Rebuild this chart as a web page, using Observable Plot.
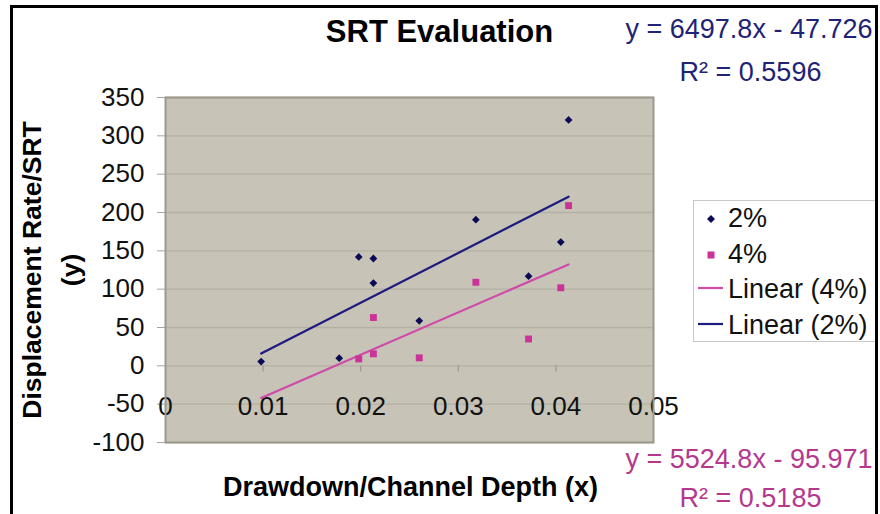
<!DOCTYPE html>
<html><head><meta charset="utf-8">
<script src="https://cdn.jsdelivr.net/npm/d3@7"></script>
<script src="https://cdn.jsdelivr.net/npm/@observablehq/plot@0.6"></script>
<style>
body{margin:0;background:#fff;}
#wrap{position:relative;width:880px;height:514px;overflow:hidden;font-family:"Liberation Sans",Arial,sans-serif;}
#chart{position:absolute;left:0;top:0;}
#border{position:absolute;left:10px;top:5px;width:868px;height:560px;border:3px solid #000;box-sizing:border-box;pointer-events:none;}
#legend{position:absolute;left:693px;top:200px;width:183px;height:142px;border:1px solid #c8c8c8;box-sizing:border-box;background:#fff;}
</style></head><body>
<div id="wrap"><div id="chart"></div><div id="legend"></div><div id="border"></div></div>
<script>
// ---- data ----
const xValues = [0.0098, 0.0178, 0.0198, 0.0213, 0.0213, 0.026, 0.0318, 0.0372, 0.0405, 0.0413];
const y2pct   = [5.6, 10, 142, 140, 108, 58.7, 190.6, 117, 161.5, 320.7];
const y4pct   = [null, null, 9, 63, 15.7, 10.4, 109, 35, 101.8, 209];
const seriesNames = ["2%", "4%"];
const trendSlopes = [6497.8, 5524.8];
const trendIntercepts = [-47.726, -95.971];
const trendR2 = [0.5596, 0.5185];
const xTicks = [0, 0.01, 0.02, 0.03, 0.04, 0.05];
const yTicks = [-100, -50, 0, 50, 100, 150, 200, 250, 300, 350];
const titleText = "SRT Evaluation";
const xTitle = "Drawdown/Channel Depth (x)";
const yTitle = ["Displacement Rate/SRT", "(y)"];
const legendLabels = ["2%", "4%", "Linear (4%)", "Linear (2%)"];

// ---- styles ----
const blueDot = "#0a0a55", pinkDot = "#cc3399";
const blueLine = "#1c1c7e", pinkLine = "#cf4aa9";
const blueText = "#1f2375", pinkText = "#b5378e";
const plotFill = "#c7c3b7", gridColor = "#b4b0a4", frameColor = "#9c988c";
const font = "Liberation Sans, Arial, sans-serif";

const points = xValues.flatMap((x, i) => [
  {x, y: y2pct[i], s: seriesNames[0]},
  {x, y: y4pct[i], s: seriesNames[1]}
]).filter(d => d.y != null);

const [xMin, xMax] = d3.extent(xValues);
const trend = seriesNames.flatMap((s, k) => [xMin, xMax].map(x => ({x, y: trendSlopes[k] * x + trendIntercepts[k], s})));

const eqText = k => `y = ${trendSlopes[k]}x - ${Math.abs(trendIntercepts[k])}`;
const r2Text = k => `R\u00b2 = ${trendR2[k]}`;

const chart = Plot.plot({
  width: 880, height: 514,
  marginLeft: 165, marginRight: 227, marginTop: 97, marginBottom: 72,
  x: {domain: [xTicks[0], xTicks[xTicks.length - 1]], axis: null},
  y: {domain: [yTicks[0], yTicks[yTicks.length - 1]]},
  style: {fontFamily: font, background: "transparent", overflow: "visible"},
  marks: [
    Plot.frame({fill: plotFill}),
    Plot.ruleY(yTicks, {stroke: gridColor, strokeWidth: 1.3}),
    Plot.axisY({ticks: yTicks, tickSize: 8, tickPadding: 13, fontSize: 26, stroke: "#a9a59b", fill: "#111", tickFormat: d => String(d), label: null}),
    Plot.ruleX(xTicks.slice(1, -1), {x: d => d, y1: 0, y2: -8, stroke: "#a09c92", strokeWidth: 1.3}),
    Plot.text(xTicks, {x: d => d, y: 0, dy: 41, text: d => String(d), fontSize: 26, fill: "#111", lineAnchor: "middle"}),
    Plot.line(trend.filter(d => d.s === "2%"), {x: "x", y: "y", stroke: blueLine, strokeWidth: 2.2}),
    Plot.line(trend.filter(d => d.s === "4%"), {x: "x", y: "y", stroke: pinkLine, strokeWidth: 2.2}),
    Plot.dot(points.filter(d => d.s === "2%"), {x: "x", y: "y", symbol: "diamond2", r: 3.5, fill: blueDot, stroke: "none"}),
    Plot.dot(points.filter(d => d.s === "4%"), {x: "x", y: "y", symbol: "square", r: 3.9, fill: pinkDot, stroke: "none"}),
    Plot.frame({stroke: frameColor, strokeWidth: 2}),
    // title
    Plot.text([titleText], {text: d => d, frameAnchor: "top", dx: 30, dy: -56, lineAnchor: "bottom", fontSize: 31, fontWeight: "bold", fill: "#000"}),
    // axis titles
    Plot.text([xTitle], {text: d => d, frameAnchor: "bottom", dx: 1, dy: 53, lineAnchor: "bottom", fontSize: 27, fontWeight: "bold", fill: "#000"}),
    Plot.text([yTitle[0]], {text: d => d, frameAnchor: "left", rotate: -90, dx: -133, textAnchor: "middle", lineAnchor: "middle", fontSize: 26.5, fontWeight: "bold", fill: "#000"}),
    Plot.text([yTitle[1]], {text: d => d, frameAnchor: "left", rotate: -90, dx: -94, textAnchor: "middle", lineAnchor: "middle", fontSize: 26.5, fontWeight: "bold", fill: "#000"}),
    // trendline equations
    Plot.text([eqText(0)], {text: d => d, frameAnchor: "top-right", textAnchor: "middle", dx: 95.5, dy: -60, lineAnchor: "bottom", fontSize: 27, fill: blueText}),
    Plot.text([r2Text(0)], {text: d => d, frameAnchor: "top-right", textAnchor: "middle", dx: 97, dy: -17, lineAnchor: "bottom", fontSize: 27, fill: blueText}),
    Plot.text([eqText(1)], {text: d => d, frameAnchor: "bottom-right", textAnchor: "middle", dx: 95.5, dy: 25, lineAnchor: "bottom", fontSize: 27, fill: pinkText}),
    Plot.text([r2Text(1)], {text: d => d, frameAnchor: "bottom-right", textAnchor: "middle", dx: 97, dy: 64, lineAnchor: "bottom", fontSize: 27, fill: pinkText})
  ]
});
document.getElementById("chart").appendChild(chart);

// legend
const ly = [26, 62, 97, 133];
document.getElementById("legend").innerHTML = `
<svg width="181" height="140" style="font-family:${font};font-size:27px;">
  <path d="M17,14 L21,18 L17,22 L13,18 Z" fill="${blueDot}"/>
  <rect x="13.5" y="50.5" width="7" height="7" fill="${pinkDot}"/>
  <line x1="4" x2="29" y1="87" y2="87" stroke="${pinkLine}" stroke-width="2.2"/>
  <line x1="4" x2="29" y1="123" y2="123" stroke="${blueLine}" stroke-width="2.2"/>
  ${legendLabels.map((t, i) => `<text x="34" y="${ly[i]}" fill="#111">${t}</text>`).join("")}
</svg>`;
</script>
</body></html>
